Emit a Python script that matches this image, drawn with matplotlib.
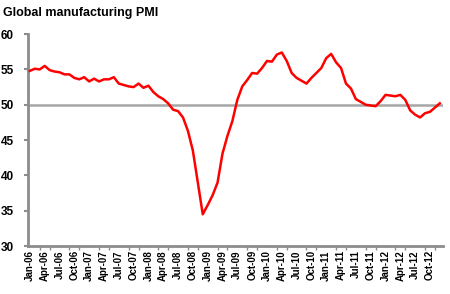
import numpy as np
import matplotlib
matplotlib.use("Agg")
import matplotlib.pyplot as plt

# monthly global manufacturing PMI, Jan-06 .. Dec-12
pmi_2006 = [54.8, 55.1, 55.0, 55.5, 54.9, 54.7, 54.6, 54.3, 54.3, 53.8, 53.6, 53.9]
pmi_2007 = [53.3, 53.7, 53.3, 53.6, 53.6, 53.9, 53.0, 52.8, 52.6, 52.5, 53.0, 52.4]
pmi_2008 = [52.7, 51.8, 51.2, 50.8, 50.2, 49.3, 49.1, 48.2, 46.3, 43.5, 39.0, 34.5]
pmi_2009 = [35.8, 37.2, 39.0, 43.1, 45.6, 47.7, 50.7, 52.6, 53.5, 54.5, 54.4, 55.2]
pmi_2010 = [56.2, 56.1, 57.1, 57.4, 56.2, 54.5, 53.8, 53.4, 53.0, 53.8, 54.5, 55.2]
pmi_2011 = [56.6, 57.2, 56.0, 55.2, 53.0, 52.3, 50.8, 50.4, 50.0, 49.9, 49.8, 50.5]
pmi_2012 = [51.4, 51.3, 51.2, 51.4, 50.7, 49.2, 48.6, 48.2, 48.8, 49.0, 49.6, 50.2]

pmi = pmi_2006 + pmi_2007 + pmi_2008 + pmi_2009 + pmi_2010 + pmi_2011 + pmi_2012
months = ["Jan", "Feb", "Mar", "Apr", "May", "Jun",
          "Jul", "Aug", "Sep", "Oct", "Nov", "Dec"]
years = ["06", "07", "08", "09", "10", "11", "12"]
month_labels = [m + "-" + y for y in years for m in months]

x = np.arange(len(pmi))

fig = plt.figure(figsize=(4.5, 2.94), dpi=100)
ax = fig.add_axes([0.062, 0.163, 0.922, 0.721])

ax.axhline(50, color="#a6a6a6", lw=1.8, zorder=1)
ax.plot(x, pmi, color="#ff0000", lw=1.8, zorder=3)

ax.set_xlim(-0.4, 83.6)
ax.set_ylim(30, 60)

gray = "#8c8c8c"
for side in ["top", "right"]:
    ax.spines[side].set_visible(False)
ax.spines["left"].set_color(gray)
ax.spines["left"].set_linewidth(2)
ax.spines["bottom"].set_color(gray)
ax.spines["bottom"].set_linewidth(2)

ax.set_yticks(range(30, 61, 5))
ax.tick_params(axis="y", colors=gray, length=3, width=1.5, pad=7)
for lab in ax.get_yticklabels():
    lab.set_color("black")
    lab.set_fontweight("bold")
    lab.set_fontsize(8.5)
    lab.set_family("Liberation Sans")

# labels every 3 months, tick marks every 2 months
ax.set_xticks(x[::3])
ax.set_xticklabels(month_labels[::3], rotation=90, fontsize=7,
                   fontweight="bold", family="Liberation Sans")
ax.tick_params(axis="x", which="major", length=0, pad=3)
ax.set_xticks(x[::2], minor=True)
ax.tick_params(axis="x", which="minor", colors=gray, length=3, width=1)

fig.text(0.007, 0.955, "Global manufacturing PMI", fontsize=9, fontweight="bold",
         family="Liberation Sans", va="center", ha="left")

fig.savefig("out.png", dpi=100)
